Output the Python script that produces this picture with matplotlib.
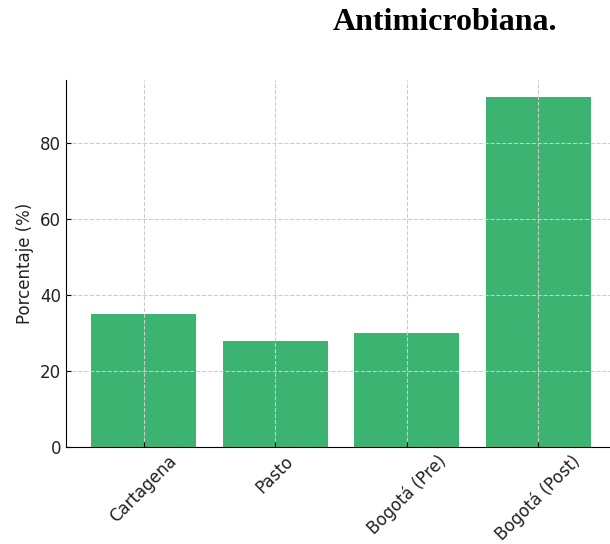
import matplotlib.pyplot as plt

# Data
ciudades = ['Cartagena', 'Pasto', 'Bogotá (Pre)', 'Bogotá (Post)']
porcentajes = [35, 28, 30, 92]

fig = plt.figure(figsize=(6.1, 5.44), dpi=100)
ax = fig.add_axes([0.108, 0.178, 0.902, 0.675])

ax.bar(ciudades, porcentajes, color='mediumseagreen', width=0.8)
ax.set_ylabel('Porcentaje (%)', fontsize=12, color='#222222')
ax.tick_params(axis='both', labelsize=12, direction='in', labelcolor='#222222')
ax.set_xticks(range(len(ciudades)))
ax.set_xticklabels(ciudades, rotation=45, ha='center')
ax.grid(True, linestyle='--', color='#cccccc', linewidth=0.8)
ax.set_axisbelow(False)
ax.spines['top'].set_visible(False)
ax.spines['right'].set_visible(False)

fig.text(0.73, 0.958, 'Antimicrobiana.', fontsize=23, fontweight='bold',
         family='Liberation Serif', ha='center', va='center')

fig.savefig('out.png', dpi=100)
